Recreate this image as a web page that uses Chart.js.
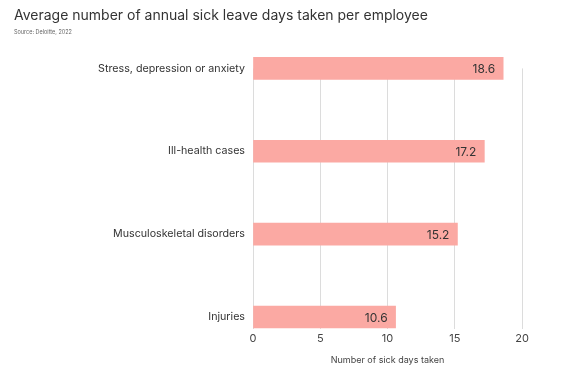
<!DOCTYPE html>
<html>
<head>
<meta charset="utf-8">
<script src="https://cdn.jsdelivr.net/npm/chart.js@4"></script>
<style>
  html, body { margin: 0; padding: 0; background: #fff; }
  #wrap { position: relative; width: 568px; height: 379px; }
</style>
</head>
<body>
<div id="wrap"><canvas id="c"></canvas></div>
<script>
// 病気休暇の平均日数
var categories = ['Stress, depression or anxiety', 'Ill-health cases', 'Musculoskeletal disorders', 'Injuries'];
var sickDays = [18.6, 17.2, 15.2, 10.6];
var xTicks = [0, 5, 10, 15, 20];

var FONT = 'Inter, "Noto Sans", sans-serif';

// バー端の数値ラベル
var barLabels = {
  id: 'barLabels',
  afterDatasetsDraw: function(chart) {
    var ctx = chart.ctx;
    var meta = chart.getDatasetMeta(0);
    ctx.save();
    ctx.font = '12px ' + FONT;
    ctx.fillStyle = '#333';
    ctx.textAlign = 'right';
    ctx.textBaseline = 'middle';
    meta.data.forEach(function(bar, i) {
      ctx.fillText(String(sickDays[i]), bar.x - 8, bar.y + 1);
    });
    ctx.restore();
  }
};

new Chart(document.getElementById('c'), {
  type: 'bar',
  data: {
    labels: categories,
    datasets: [{
      data: sickDays,
      backgroundColor: '#fba9a3',
      borderWidth: 0,
      barThickness: 22,
      clip: false
    }]
  },
  options: {
    indexAxis: 'y',
    responsive: true,
    maintainAspectRatio: false,
    animation: false,
    layout: { padding: { left: 14, right: 46, top: 0, bottom: 9 } },
    plugins: {
      legend: { display: false },
      tooltip: { enabled: false },
      title: {
        display: true,
        text: 'Average number of annual sick leave days taken per employee',
        align: 'start',
        color: '#333',
        font: { family: FONT, size: 14, weight: 'normal' },
        padding: { top: 7, bottom: 5 }
      },
      subtitle: {
        display: true,
        text: 'Source: Deloitte, 2022',
        align: 'start',
        color: '#666',
        font: { family: FONT, size: 5.5 },
        padding: { top: 0, bottom: 33 }
      }
    },
    scales: {
      x: {
        min: 0,
        max: 20,
        afterBuildTicks: function(s) { s.ticks = xTicks.map(function(v) { return { value: v }; }); },
        grid: { color: '#dcdcdc', lineWidth: 1, tickLength: 12 },
        border: { display: false },
        ticks: { color: '#444', font: { family: FONT, size: 11 }, padding: 3 },
        title: {
          display: true,
          text: 'Number of sick days taken',
          color: '#444',
          font: { family: FONT, size: 9 },
          padding: { top: 7 }
        }
      },
      y: {
        offset: false,
        afterFit: function(s) { s.width = 239; },
        grid: { display: false },
        border: { display: false },
        ticks: { color: '#333', font: { family: FONT, size: 10.7 }, padding: 0 }
      }
    }
  },
  plugins: [barLabels]
});
</script>
</body>
</html>
